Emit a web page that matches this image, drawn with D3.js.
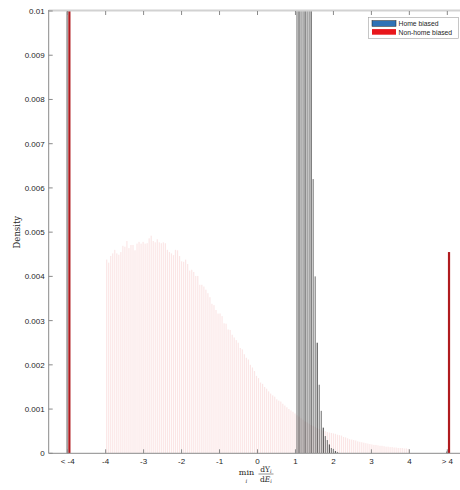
<!DOCTYPE html>
<html>
<head>
<meta charset="utf-8">
<script src="https://cdn.jsdelivr.net/npm/d3@7"></script>
<style>
  body { margin: 0; background: #fff; }
  svg { display: block; }
  .tick-label { font-family: "Liberation Sans", Arial, sans-serif; font-size: 8px; fill: #262626; }
  .tex { font-family: "DejaVu Serif", "Liberation Serif", serif; fill: #262626; }
</style>
</head>
<body>
<svg id="chart" width="460" height="490"></svg>
<script>
// histogram bins span -4..4, 150 bins
var binStart = -4;
var binWidth = 8 / 150;

// non-home biased density, one value per bin (starting at bin 0)
var nonHomeDensity = [
  0.00438,0.00431,0.00446,0.00452,0.00460,0.00452,0.00449,0.00455,0.00469,0.00467,
  0.00480,0.00464,0.00471,0.00471,0.00459,0.00474,0.00478,0.00474,0.00478,0.00474,
  0.00475,0.00486,0.00492,0.00480,0.00477,0.00484,0.00477,0.00475,0.00477,0.00475,
  0.00460,0.00455,0.00452,0.00448,0.00460,0.00459,0.00446,0.00434,0.00433,0.00438,
  0.00428,0.00413,0.00415,0.00410,0.00401,0.00401,0.00381,0.00381,0.00377,0.00370,
  0.00362,0.00353,0.00338,0.00335,0.00324,0.00316,0.00316,0.00310,0.00294,0.00293,
  0.00280,0.00279,0.00268,0.00262,
  0.00256,0.00250,0.00238,0.00235,0.00224,0.00216,0.00212,0.00200,0.00194,0.00186,
  0.00175,0.00170,0.00160,0.00157,0.00150,0.00146,0.00140,0.00135,0.00131,0.00128,
  0.00122,0.00119,0.00117,0.00112,0.00108,0.00104,0.00100,0.00097,0.00094,0.00090,
  0.00086,0.00083,0.00079,0.00076,0.00072,0.00070,0.00067,0.00064,0.00062,0.00060,
  0.00057,0.00055,0.00053,0.00051,0.00050,0.00048,0.00047,0.00046,0.00045,0.00044,
  0.00042,0.00041,0.00040,0.00037,0.00036,0.00034,0.00032,0.00031,0.00030,0.00029,
  0.00027,0.00026,0.00025,0.00024,0.00023,0.00022,0.00021,0.00020,0.00019,0.00019,
  0.00018,0.00017,0.00017,0.00016,0.00015,0.00015,0.00014,0.00014,0.00013,0.00013,
  0.00012,0.00012,0.00012,0.00011,0.00011,0.00010
];

// home biased density, bins 94..114 (the rest are empty)
var homeFirstBin = 94;
var homeDensity = [
  0.0120,0.0150,0.0180,0.0200,0.0190,0.0170,0.0140,0.0110,
  0.00620,0.00400,0.00250,0.00155,0.00096,0.00058,0.00039,0.00030,
  0.00020,0.00012,0.00010,0.00005,0.00003
];

// overflow bins drawn at the edges
var tailLabels = ["< -4", "> 4"];
var tailPositions = [-5, 5];
var homeTail = [0.0125, 0.00004];
var nonHomeTail = [0.0125, 0.00455];

var xTicks = [-5, -4, -3, -2, -1, 0, 1, 2, 3, 4, 5];
var xTickLabels = ["< -4", "-4", "-3", "-2", "-1", "0", "1", "2", "3", "4", "> 4"];
var yTicks = [0, 0.001, 0.002, 0.003, 0.004, 0.005, 0.006, 0.007, 0.008, 0.009, 0.01];
var yTickLabels = ["0", "0.001", "0.002", "0.003", "0.004", "0.005", "0.006", "0.007", "0.008", "0.009", "0.01"];

var legendLabels = ["Home biased", "Non-home biased"];
var legendColors = ["#2f72b6", "#e8161b"];


function DensityChart(svg) {
    var self = this;
    self.svg = svg;
    self.init();
}

DensityChart.prototype.init = function() {
    var self = this;
    self.left = 48.7;
    self.top = 11;
    self.bottom = 453.3;
    self.right = 466.3;

    self.x = d3.scaleLinear().domain([-5.5, 5.5]).range([self.left, self.right]);
    self.y = d3.scaleLinear().domain([0, 0.01]).range([self.bottom, self.top]);

    self.svg.append("clipPath").attr("id", "plot-clip")
        .append("rect")
        .attr("x", self.left).attr("y", self.top)
        .attr("width", self.right - self.left)
        .attr("height", self.bottom - self.top);

    self.plot = self.svg.append("g").attr("clip-path", "url(#plot-clip)");
};

DensityChart.prototype.drawBars = function() {
    var self = this;
    var x = self.x, y = self.y;

    // pale non-home bars
    self.plot.append("g").selectAll("rect")
        .data(nonHomeDensity)
        .join("rect")
        .attr("x", function(d, i) { return x(binStart + (i + 0.5) * binWidth) - 0.6; })
        .attr("width", 1.2)
        .attr("y", function(d) { return y(d); })
        .attr("height", function(d) { return y(0) - y(d); })
        .attr("fill", "#f8d6d6")
        .attr("opacity", 0.6);

    // home bars (mostly just the edges show)
    self.plot.append("g").selectAll("rect")
        .data(homeDensity)
        .join("rect")
        .attr("x", function(d, i) { return x(binStart + (homeFirstBin + i + 0.5) * binWidth) - 0.6; })
        .attr("width", 1.2)
        .attr("y", function(d) { return y(d); })
        .attr("height", function(d) { return y(0) - y(d); })
        .attr("fill", function(d, i) { return i % 3 == 1 ? "#3a3a3a" : "#6f6f6f"; })
        .attr("opacity", 0.85);

    // overflow bars
    self.plot.append("g").selectAll("rect")
        .data(homeTail)
        .join("rect")
        .attr("x", function(d, i) { return x(tailPositions[i]) - 1.2; })
        .attr("width", 1.2)
        .attr("y", function(d) { return y(d); })
        .attr("height", function(d) { return y(0) - y(d); })
        .attr("fill", "#777");

    self.plot.append("g").selectAll("rect")
        .data(nonHomeTail)
        .join("rect")
        .attr("x", function(d, i) { return x(tailPositions[i]) + 0.6; })
        .attr("width", 2.2)
        .attr("y", function(d) { return y(d); })
        .attr("height", function(d) { return y(0) - y(d); })
        .attr("fill", "#b01b1f");
};

DensityChart.prototype.drawAxes = function() {
    var self = this;
    var x = self.x, y = self.y;
    var g = self.svg.append("g");

    // box: top edge lighter, left and bottom gray
    g.append("line").attr("x1", self.left).attr("x2", self.right)
        .attr("y1", self.top - 0.5).attr("y2", self.top - 0.5)
        .attr("stroke", "#d2d2d2").attr("stroke-width", 2);
    g.append("line").attr("x1", self.left).attr("x2", self.left)
        .attr("y1", self.top - 1).attr("y2", self.bottom)
        .attr("stroke", "#8a8a8a").attr("stroke-width", 1);
    g.append("line").attr("x1", self.left).attr("x2", self.right)
        .attr("y1", self.bottom).attr("y2", self.bottom)
        .attr("stroke", "#8a8a8a").attr("stroke-width", 1);

    // x ticks, pointing inward at bottom and top
    xTicks.forEach(function(t, i) {
        g.append("line").attr("x1", x(t)).attr("x2", x(t))
            .attr("y1", self.bottom).attr("y2", self.bottom - 4)
            .attr("stroke", "#8a8a8a");
        g.append("line").attr("x1", x(t)).attr("x2", x(t))
            .attr("y1", self.top).attr("y2", self.top + 4)
            .attr("stroke", "#8a8a8a");
        g.append("text").attr("class", "tick-label")
            .attr("x", x(t)).attr("y", self.bottom + 11)
            .attr("text-anchor", "middle")
            .text(xTickLabels[i]);
    });

    yTicks.forEach(function(t, i) {
        g.append("line").attr("x1", self.left).attr("x2", self.left + 4)
            .attr("y1", y(t)).attr("y2", y(t))
            .attr("stroke", "#8a8a8a");
        g.append("text").attr("class", "tick-label")
            .attr("x", self.left - 4).attr("y", y(t) + 3)
            .attr("text-anchor", "end")
            .text(yTickLabels[i]);
    });

    // y label
    g.append("text").attr("class", "tex")
        .attr("transform", "translate(20," + ((self.top + self.bottom) / 2) + ") rotate(-90)")
        .attr("text-anchor", "middle")
        .attr("font-size", 8.5)
        .text("Density");

    // x label: min_i dY_i / dE_i
    var lab = g.append("g").attr("class", "tex");
    lab.append("text").attr("x", 246.5).attr("y", 475).attr("text-anchor", "middle")
        .attr("font-size", 8).text("min");
    lab.append("text").attr("x", 246.5).attr("y", 483).attr("text-anchor", "middle")
        .attr("font-size", 5.5).attr("font-style", "italic").text("i");
    var num = lab.append("text").attr("x", 266).attr("y", 471.5).attr("text-anchor", "middle")
        .attr("font-size", 7.5);
    num.append("tspan").text("dY");
    num.append("tspan").attr("font-size", 5).attr("font-style", "italic").attr("dy", 1.5).text("i");
    lab.append("line").attr("x1", 258.5).attr("x2", 273.5).attr("y1", 474).attr("y2", 474)
        .attr("stroke", "#262626").attr("stroke-width", 0.5);
    var den = lab.append("text").attr("x", 266).attr("y", 481.5).attr("text-anchor", "middle")
        .attr("font-size", 7.5);
    den.append("tspan").text("d");
    den.append("tspan").attr("font-style", "italic").text("E");
    den.append("tspan").attr("font-size", 5).attr("font-style", "italic").attr("dy", 1.5).text("i");
};

DensityChart.prototype.addLegend = function() {
    var self = this;
    var legend = self.svg.append("g").attr("class", "legend");

    legend.append("rect")
        .attr("x", 368.5).attr("y", 17.5)
        .attr("width", 90).attr("height", 21)
        .attr("fill", "#fff").attr("stroke", "#a0a0a0").attr("stroke-width", 0.6);

    var items = legend.selectAll(".legend-item")
        .data(legendLabels)
        .join("g")
        .attr("class", "legend-item")
        .attr("transform", function(d, i) { return "translate(372," + (20.7 + i * 8.4) + ")"; });

    items.append("rect")
        .attr("width", 24).attr("height", 5.6)
        .attr("fill", function(d, i) { return legendColors[i]; })
        .attr("stroke", function(d, i) { return i == 0 ? "#1a1a1a" : "none"; })
        .attr("stroke-width", 0.5);

    items.append("text")
        .attr("class", "tick-label")
        .attr("x", 26.5).attr("y", 5.4)
        .style("font-size", "6.8px")
        .text(function(d) { return d; });
};

var chart = new DensityChart(d3.select("#chart"));
chart.drawBars();
chart.drawAxes();
chart.addLegend();
</script>
</body>
</html>
